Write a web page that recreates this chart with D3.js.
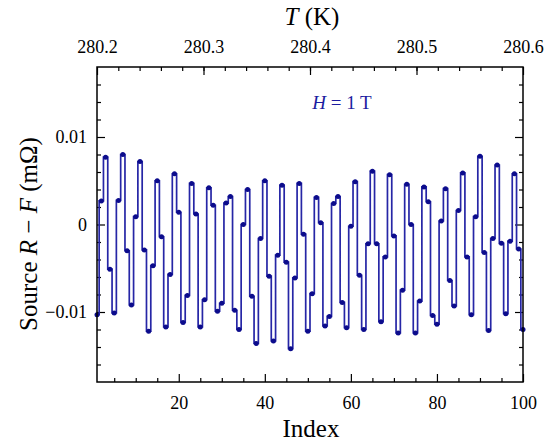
<!DOCTYPE html>
<html>
<head>
<meta charset="utf-8">
<script src="https://cdn.jsdelivr.net/npm/d3@7"></script>
<style>
  body { margin: 0; background: #fff; }
  text { font-family: "Liberation Serif", "DejaVu Serif", serif; }
</style>
</head>
<body>
<div id="chart"></div>
<script>
// Chart size and plot frame
var width = 548;
var height = 445;
var frame = { left: 97, right: 523, top: 67, bottom: 382 };

// Measured signal, Source R - F in mOhm, one value per index 1..100
var resistance = [
    -0.0103, 0.0027, 0.0077, -0.0051, -0.0101, 0.00275, 0.0080, -0.0030, -0.0092, 0.0009,
    0.0072, -0.0029, -0.0122, -0.0047, 0.0050, -0.0014, -0.0117, -0.0057, 0.0058, 0.0014,
    -0.0112, -0.0081, 0.0047, 0.0012, -0.0117, -0.0086, 0.0042, 0.0022, -0.0099, -0.0090,
    0.00245, 0.0032, -0.0098, -0.0120, 0.0000, 0.0040, -0.0082, -0.0136, -0.0016, 0.0050,
    -0.0059, -0.0133, -0.0035, 0.0045, -0.0043, -0.0142, -0.0061, 0.0047, -0.0011, -0.0122,
    -0.0079, 0.0031, 0.0002, -0.0116, -0.0105, 0.0024, 0.0032, -0.0089, -0.0118, -0.0002,
    0.0049, -0.0058, -0.0120, -0.0022, 0.0061, -0.0022, -0.0111, -0.0037, 0.0057, -0.0013,
    -0.0124, -0.0075, 0.0046, 0.0000, -0.0124, -0.00875, 0.0043, 0.0026, -0.0104, -0.0114,
    0.0004, 0.0041, -0.0064, -0.0093, 0.0016, 0.0059, -0.0037, -0.0103, 0.0009, 0.0078,
    -0.0032, -0.0121, -0.0016, 0.0068, -0.00215, -0.0102, -0.0019, 0.0058, -0.0028, -0.0120
];
var indexValues = resistance.map((d, i) => i + 1);

// Axis ranges and tick labels
var indexDomain = [1, 100];
var tempDomain = [280.2, 280.6];
var yDomain = [-0.018, 0.018];
var indexTicks = [20, 40, 60, 80, 100];
var indexMinor = [5, 10, 15, 25, 30, 35, 45, 50, 55, 65, 70, 75, 85, 90, 95];
var tempTicks = [280.2, 280.3, 280.4, 280.5, 280.6];
var yTicks = [-0.01, 0, 0.01];
var yMinor = [-0.016, -0.014, -0.012, -0.008, -0.006, -0.004, -0.002,
              0.002, 0.004, 0.006, 0.008, 0.012, 0.014, 0.016];

var lineColor = "#2626a6";
var dotColor = "#0c0c8c";

var svg = d3.select("#chart").append("svg")
    .attr("width", width)
    .attr("height", height);

var x = d3.scaleLinear().domain(indexDomain).range([frame.left, frame.right]);
var xTop = d3.scaleLinear().domain(tempDomain).range([frame.left, frame.right]);
var y = d3.scaleLinear().domain(yDomain).range([frame.bottom, frame.top]);

var plotH = frame.bottom - frame.top;
var plotW = frame.right - frame.left;

// Inward ticks: draw axes with negative tick sizes
function tickAxis(axis, g) {
    g.call(axis);
    g.select(".domain").remove();
    g.selectAll(".tick line").attr("stroke", "#000").attr("stroke-width", 1.2);
}

// Bottom axis (Index)
var bottomG = svg.append("g").attr("transform", "translate(0," + frame.bottom + ")");
tickAxis(d3.axisBottom(x).tickValues(indexTicks).tickSize(-8).tickPadding(14), bottomG);
bottomG.selectAll("text").attr("font-size", "18px").attr("fill", "#000");
var bottomMinor = svg.append("g").attr("transform", "translate(0," + frame.bottom + ")");
tickAxis(d3.axisBottom(x).tickValues(indexMinor).tickSize(-4).tickFormat(""), bottomMinor);

// Top axis (T)
var topG = svg.append("g").attr("transform", "translate(0," + frame.top + ")");
tickAxis(d3.axisTop(xTop).tickValues(tempTicks).tickSize(-8).tickPadding(14)
    .tickFormat(d3.format(".1f")), topG);
topG.selectAll("text").attr("font-size", "18px").attr("fill", "#000");
var topMinor = svg.append("g").attr("transform", "translate(0," + frame.top + ")");
tickAxis(d3.axisTop(xTop).tickValues(d3.range(280.22, 280.6, 0.02)).tickSize(-4).tickFormat(""), topMinor);

// Left axis
var leftG = svg.append("g").attr("transform", "translate(" + frame.left + ",0)");
tickAxis(d3.axisLeft(y).tickValues(yTicks).tickSize(-8).tickPadding(10)
    .tickFormat(d => d === 0 ? "0" : d3.format(".2f")(d)), leftG);
leftG.selectAll("text").attr("font-size", "18px").attr("fill", "#000");
var leftMinor = svg.append("g").attr("transform", "translate(" + frame.left + ",0)");
tickAxis(d3.axisLeft(y).tickValues(yMinor).tickSize(-4).tickFormat(""), leftMinor);

// Right axis
var rightG = svg.append("g").attr("transform", "translate(" + frame.right + ",0)");
tickAxis(d3.axisRight(y).tickValues(yTicks).tickSize(-8).tickFormat(""), rightG);
var rightMinor = svg.append("g").attr("transform", "translate(" + frame.right + ",0)");
tickAxis(d3.axisRight(y).tickValues(yMinor).tickSize(-4).tickFormat(""), rightMinor);

// Step line with dots
var points = indexValues.map((d, i) => [d, resistance[i]]);
var line = d3.line()
    .x(d => x(d[0]))
    .y(d => y(d[1]))
    .curve(d3.curveStep);

svg.append("path")
    .datum(points)
    .attr("fill", "none")
    .attr("stroke", lineColor)
    .attr("stroke-width", 1.7)
    .attr("d", line);

svg.append("g").selectAll("circle")
    .data(points)
    .enter()
    .append("circle")
    .attr("cx", d => x(d[0]))
    .attr("cy", d => y(d[1]))
    .attr("r", 2.5)
    .attr("fill", dotColor);

// Frame
svg.append("rect")
    .attr("x", frame.left)
    .attr("y", frame.top)
    .attr("width", plotW)
    .attr("height", plotH)
    .attr("fill", "none")
    .attr("stroke", "#000")
    .attr("stroke-width", 1.5);

// Axis titles
svg.append("text")
    .attr("x", 311)
    .attr("y", 437)
    .attr("text-anchor", "middle")
    .attr("font-size", "25px")
    .text("Index");

var topTitle = svg.append("text")
    .attr("x", 312)
    .attr("y", 25)
    .attr("text-anchor", "middle")
    .attr("font-size", "25px");
topTitle.append("tspan").attr("font-style", "italic").text("T");
topTitle.append("tspan").text(" (K)");

var yTitle = svg.append("text")
    .attr("transform", "translate(37,234) rotate(-90)")
    .attr("text-anchor", "middle")
    .attr("font-size", "25px");
yTitle.append("tspan").text("Source ");
yTitle.append("tspan").attr("font-style", "italic").text("R");
yTitle.append("tspan").text(" \u2212 ");
yTitle.append("tspan").attr("font-style", "italic").text("F");
yTitle.append("tspan").text(" (m\u03A9)");

// Field annotation
var note = svg.append("text")
    .attr("x", 342)
    .attr("y", 109)
    .attr("text-anchor", "middle")
    .attr("font-size", "19px")
    .attr("fill", "#1c1ca0");
note.append("tspan").attr("font-style", "italic").text("H");
note.append("tspan").text(" = 1 T");
</script>
</body>
</html>
